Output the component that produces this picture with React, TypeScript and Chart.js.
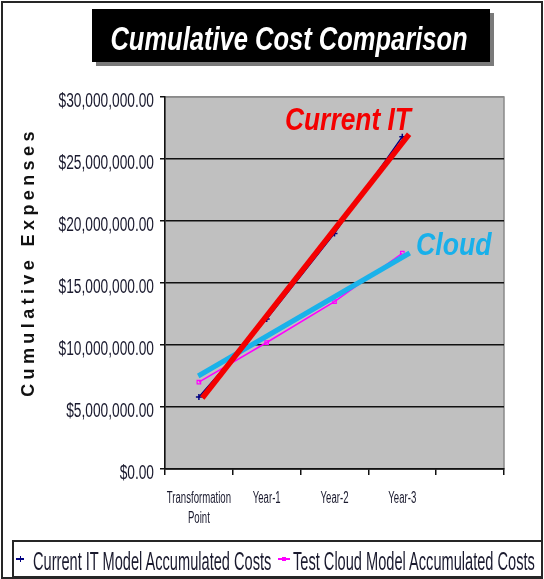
import React, { useEffect, useRef } from 'react';
import { Chart, registerables } from 'chart.js';

Chart.register(...registerables);

// ---- data ----
const categories: (string | string[])[] = [['Transformation', 'Point'], 'Year-1', 'Year-2', 'Year-3', ''];
const currentITCosts = [5.8e6, 12.1e6, 19.0e6, 26.8e6, null];
const cloudCosts = [7.0e6, 10.2e6, 13.5e6, 17.4e6, null];
// hand-drawn highlight strokes (x = category position, y = value)
const currentITHighlight = [
  { x: 0.05, y: 5.73e6 },
  { x: 3.1, y: 27.0e6 },
];
const cloudHighlight = [
  { x: -0.01, y: 7.5e6 },
  { x: 3.11, y: 17.42e6 },
];
const yTickValues = [0, 5e6, 10e6, 15e6, 20e6, 25e6, 30e6];
const seriesNames = ['Current IT Model Accumulated Costs', 'Test Cloud Model Accumulated Costs'];

const TICK_COLOR = '#1a1a2e';
const FONT = '"Liberation Sans", Arial, sans-serif';

const fmtMoney = (v: number) =>
  '$' + v.toLocaleString('en-US', { minimumFractionDigits: 2, maximumFractionDigits: 2 });

const plotBackground = {
  id: 'plotBackground',
  beforeDraw(chart: any) {
    const { ctx, chartArea: a } = chart;
    ctx.save();
    ctx.fillStyle = '#c0c0c0';
    ctx.fillRect(a.left, a.top, a.right - a.left, a.bottom - a.top);
    ctx.strokeStyle = '#8a8a8a';
    ctx.lineWidth = 1.5;
    ctx.strokeRect(a.left, a.top, a.right - a.left, a.bottom - a.top);
    ctx.restore();
  },
};

const stretchedTicks = {
  id: 'stretchedTicks',
  afterDraw(chart: any) {
    const ctx = chart.ctx;
    const ys = chart.scales.y;
    const xs = chart.scales.x;
    ctx.save();
    ctx.fillStyle = TICK_COLOR;
    ctx.textBaseline = 'alphabetic';
    ctx.font = `20.5px ${FONT}`;
    ctx.textAlign = 'right';
    ys.ticks.forEach((t: any, i: number) => {
      const py = ys.getPixelForTick(i);
      ctx.save();
      ctx.translate(ys.right - 11, py + 9.5);
      ctx.scale(0.67, 1);
      ctx.fillText(fmtMoney(t.value), 0, 0);
      ctx.restore();
    });
    ctx.font = `16px ${FONT}`;
    ctx.textAlign = 'center';
    xs.ticks.forEach((t: any, i: number) => {
      const c = categories[t.value];
      const lines = Array.isArray(c) ? c : [c];
      const px = xs.getPixelForTick(i);
      lines.forEach((line: string, li: number) => {
        ctx.save();
        ctx.translate(px, xs.top + 34 + li * 20);
        ctx.scale(0.6, 1);
        ctx.fillText(line, 0, 0);
        ctx.restore();
      });
    });
    ctx.restore();
  },
};

export default function App() {
  const ref = useRef<HTMLCanvasElement>(null);

  useEffect(() => {
    const chart = new Chart(ref.current as HTMLCanvasElement, {
      type: 'line',
      data: {
        labels: categories as any,
        datasets: [
          {
            label: 'Current IT',
            data: currentITHighlight as any,
            xAxisID: 'x2',
            borderColor: '#f40000',
            borderWidth: 5.5,
            pointRadius: 0,
            borderCapStyle: 'butt',
          },
          {
            label: 'Cloud',
            data: cloudHighlight as any,
            xAxisID: 'x2',
            borderColor: '#1ab2ea',
            borderWidth: 5,
            pointRadius: 0,
            borderCapStyle: 'butt',
          },
          {
            label: seriesNames[0],
            data: currentITCosts,
            borderColor: '#000080',
            borderWidth: 1.5,
            pointStyle: 'cross',
            pointRadius: 3,
            pointBorderColor: '#000080',
            pointBorderWidth: 1.5,
            spanGaps: false,
          },
          {
            label: seriesNames[1],
            data: cloudCosts,
            borderColor: '#ff00ff',
            borderWidth: 1.5,
            pointStyle: 'rect',
            pointRadius: 2.5,
            pointBackgroundColor: 'transparent',
            pointBorderColor: '#ff00ff',
            pointBorderWidth: 1.2,
          },
        ],
      },
      options: {
        animation: false,
        responsive: true,
        maintainAspectRatio: false,
        layout: { padding: { left: 0, right: 40, top: 97, bottom: 0 } },
        plugins: {
          legend: { display: false },
          title: { display: false },
          tooltip: { enabled: false },
        },
        scales: {
          x: {
            type: 'category',
            offset: true,
            afterFit: (s: any) => {
              s.height = 71;
            },
            ticks: { display: false },
            grid: {
              drawOnChartArea: false,
              drawTicks: true,
              tickLength: 6,
              offset: true,
              color: '#111',
              lineWidth: 1.5,
            },
            border: { display: true, color: '#111', width: 1.5 },
          },
          x2: {
            type: 'linear',
            display: false,
            min: -0.5,
            max: 4.5,
          },
          y: {
            type: 'linear',
            min: yTickValues[0],
            max: yTickValues[yTickValues.length - 1],
            afterBuildTicks: (s: any) => {
              s.ticks = yTickValues.map((v) => ({ value: v }));
            },
            afterFit: (s: any) => {
              s.width = 165;
            },
            ticks: { display: false },
            grid: {
              color: (c: any) => (c.tick && c.tick.value === 30e6 ? '#8a8a8a' : '#111'),
              tickColor: '#111',
              lineWidth: 1.5,
              tickLength: 5,
              drawTicks: true,
            },
            border: { display: true, color: '#111', width: 1.5 },
          },
        },
      },
      plugins: [plotBackground, stretchedTicks],
    });
    return () => chart.destroy();
  }, []);

  const abs = (o: React.CSSProperties): React.CSSProperties => ({ position: 'absolute', ...o });

  return (
    <div
      style={abs({
        left: 0,
        top: 0,
        width: 544,
        height: 579,
        background: '#fff',
        overflow: 'hidden',
        fontFamily: FONT,
      })}
    >
      <div style={abs({ left: 0, top: 0, width: 544, height: 540 })}>
        <canvas ref={ref} />
      </div>

      {/* outer frame */}
      <div
        style={abs({
          left: 1,
          top: 1,
          width: 542,
          height: 578,
          border: '2px solid #262626',
          boxSizing: 'border-box',
          pointerEvents: 'none',
        })}
      />

      {/* title */}
      <div
        style={abs({
          left: 92,
          top: 9,
          width: 398,
          height: 53,
          background: '#000',
          boxShadow: '4px 4px 0 #7a7a7a',
        })}
      />
      <div
        style={abs({
          left: 289,
          top: 21.6,
          transform: 'translateX(-50%) scaleX(0.773)',
          whiteSpace: 'nowrap',
          font: `italic bold 33px/1 ${FONT}`,
          color: '#fff',
        })}
      >
        Cumulative Cost Comparison
      </div>

      {/* annotations */}
      <div
        style={abs({
          left: 285,
          top: 104,
          transform: 'scaleX(0.85)',
          transformOrigin: 'left top',
          whiteSpace: 'nowrap',
          font: `italic bold 31px/1 ${FONT}`,
          color: '#f40000',
        })}
      >
        Current IT
      </div>
      <div
        style={abs({
          left: 416,
          top: 229,
          transform: 'scaleX(0.86)',
          transformOrigin: 'left top',
          whiteSpace: 'nowrap',
          font: `italic bold 31px/1 ${FONT}`,
          color: '#18b0ea',
        })}
      >
        Cloud
      </div>

      {/* y axis title */}
      <div
        style={abs({
          left: 28,
          top: 262,
          transform: 'translate(-50%, -50%) rotate(-90deg)',
          whiteSpace: 'nowrap',
          font: `bold 18px/1 ${FONT}`,
          letterSpacing: '4.4px',
          color: '#111',
        })}
      >
        Cumulative Expenses
      </div>

      {/* legend */}
      <div
        style={abs({
          left: 12,
          top: 540,
          width: 531,
          height: 38,
          border: '2px solid #262626',
          boxSizing: 'border-box',
        })}
      />
      <div style={abs({ left: 16, top: 558, width: 8, height: 1.5, background: '#000080' })} />
      <div style={abs({ left: 19.5, top: 556, width: 1.5, height: 6, background: '#000080' })} />
      <div
        style={abs({
          left: 33,
          top: 548.8,
          transform: 'scaleX(0.584)',
          transformOrigin: 'left top',
          whiteSpace: 'nowrap',
          font: `25px/1 ${FONT}`,
          color: TICK_COLOR,
        })}
      >
        {seriesNames[0]}
      </div>
      <div style={abs({ left: 278, top: 558, width: 12, height: 1.5, background: '#ff00ff' })} />
      <div style={abs({ left: 282, top: 556.5, width: 4, height: 4, background: '#ff00ff' })} />
      <div
        style={abs({
          left: 293,
          top: 548.8,
          transform: 'scaleX(0.584)',
          transformOrigin: 'left top',
          whiteSpace: 'nowrap',
          font: `25px/1 ${FONT}`,
          color: TICK_COLOR,
        })}
      >
        {seriesNames[1]}
      </div>
    </div>
  );
}
